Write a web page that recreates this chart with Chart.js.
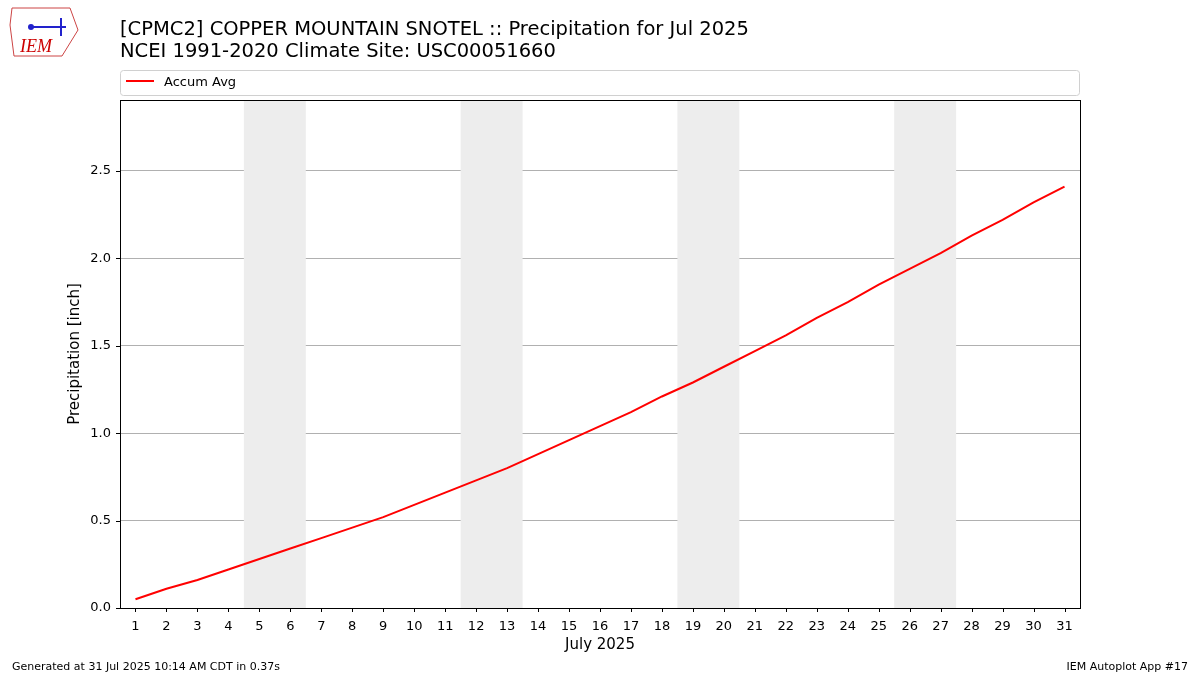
<!DOCTYPE html>
<html><head><meta charset="utf-8">
<script src="https://cdn.jsdelivr.net/npm/chart.js@4"></script>
<style>html,body{margin:0;padding:0;background:#fff}#w{width:1200px;height:675px}</style>
</head><body><div id="w"><canvas id="c"></canvas></div>
<script>
const days = [1,2,3,4,5,6,7,8,9,10,11,12,13,14,15,16,17,18,19,20,21,22,23,24,25,26,27,28,29,30,31];
const accumAvg = [0.05,0.11,0.16,0.22,0.28,0.34,0.40,0.46,0.52,0.59,0.66,0.73,0.80,0.88,0.96,1.04,1.12,1.21,1.29,1.38,1.47,1.56,1.66,1.75,1.85,1.94,2.03,2.13,2.22,2.32,2.41];
const weekends = [[4.5,6.5],[11.5,13.5],[18.5,20.5],[25.5,27.5]];
const yTicks = [0,0.5,1.0,1.5,2.0,2.5];
const FONT = "'DejaVu Sans', sans-serif";

const deco = {
  id:'deco',
  beforeDatasetsDraw(ch){
    const {ctx, chartArea:a, scales:{x}} = ch;
    ctx.save(); ctx.fillStyle='#ededed';
    weekends.forEach(([s,e])=>{const x1=x.getPixelForValue(s),x2=x.getPixelForValue(e);ctx.fillRect(x1,a.top,x2-x1,a.bottom-a.top);});
    ctx.restore();
  },
  afterDraw(ch){
    const {ctx, chartArea:a, scales:{x,y}} = ch;
    ctx.save();
    ctx.strokeStyle='#000'; ctx.lineWidth=1; ctx.strokeRect(a.left+0.5,a.top+0.5,a.right-a.left,a.bottom-a.top);
    ctx.beginPath();
    days.forEach(d=>{const px=Math.round(x.getPixelForValue(d))+0.5;ctx.moveTo(px,a.bottom);ctx.lineTo(px,a.bottom+4);});
    yTicks.forEach(v=>{const py=Math.round(y.getPixelForValue(v))+0.5;ctx.moveTo(a.left,py);ctx.lineTo(a.left-4,py);});
    ctx.stroke();
    ctx.fillStyle='#000'; ctx.textBaseline='alphabetic'; ctx.textAlign='left';
    ctx.font="19.5px "+FONT;
    ctx.fillText('[CPMC2] COPPER MOUNTAIN SNOTEL :: Precipitation for Jul 2025',120,35);
    ctx.fillText('NCEI 1991-2020 Climate Site: USC00051660',120,57);
    ctx.font="15px "+FONT; ctx.textAlign='center';
    ctx.fillText('July 2025',600,649);
    ctx.translate(79,354); ctx.rotate(-Math.PI/2); ctx.fillText('Precipitation [inch]',0,0);
    ctx.setTransform(1,0,0,1,0,0); ctx.scale(ch.currentDevicePixelRatio,ch.currentDevicePixelRatio);
    ctx.textAlign='left';
    ctx.strokeStyle='#d0d0d0'; ctx.beginPath(); ctx.roundRect(120.5,70.5,959,25,3); ctx.stroke();
    ctx.strokeStyle='red'; ctx.lineWidth=2; ctx.beginPath(); ctx.moveTo(126,81); ctx.lineTo(154,81); ctx.stroke();
    ctx.font="13px "+FONT; ctx.fillText('Accum Avg',164,86);
    ctx.font="11px "+FONT; ctx.fillText('Generated at 31 Jul 2025 10:14 AM CDT in 0.37s',12,670);
    ctx.textAlign='right'; ctx.fillText('IEM Autoplot App #17',1188,670);
    ctx.textAlign='left'; ctx.fillStyle='#c00'; ctx.font="italic 18px 'Liberation Serif', serif"; ctx.fillText('IEM',20,52);
    ctx.strokeStyle='#c44'; ctx.lineWidth=1; ctx.beginPath(); ctx.moveTo(12,8); ctx.lineTo(70,8); ctx.lineTo(78,30); ctx.lineTo(62,56); ctx.lineTo(14,56); ctx.lineTo(10,25); ctx.closePath(); ctx.stroke();
    ctx.fillStyle='#22c'; ctx.beginPath(); ctx.arc(31,27,3,0,7); ctx.fill(); ctx.fillRect(30,26,36,2); ctx.fillRect(60,18,2,18);
    ctx.restore();
  }
};

new Chart(document.getElementById('c'),{
  type:'line',
  data:{datasets:[{label:'Accum Avg',data:days.map((d,i)=>({x:d,y:accumAvg[i]})),borderColor:'red',borderWidth:2,pointRadius:0,tension:0}]},
  options:{
    responsive:true, maintainAspectRatio:false, animation:false,
    layout:{padding:{top:100,right:120,left:0,bottom:0}},
    plugins:{legend:{display:false},title:{display:false},tooltip:{enabled:false}},
    scales:{
      x:{type:'linear',min:0.5,max:31.5,
        afterFit(s){s.height=67;},
        afterBuildTicks(s){s.ticks=days.map(v=>({value:v}));},
        grid:{display:false},
        border:{display:false},
        ticks:{color:'#000',font:{family:FONT,size:13},maxRotation:0,autoSkip:false,padding:3}},
      y:{min:0,max:2.906,
        afterFit(s){s.width=120;},
        afterBuildTicks(s){s.ticks=yTicks.map(v=>({value:v}));},
        grid:{color:'#b0b0b0',drawTicks:false},
        border:{display:false},
        ticks:{color:'#000',font:{family:FONT,size:13},padding:9,callback:v=>v.toFixed(1)}}
    }
  },
  plugins:[deco]
});
</script></body></html>
